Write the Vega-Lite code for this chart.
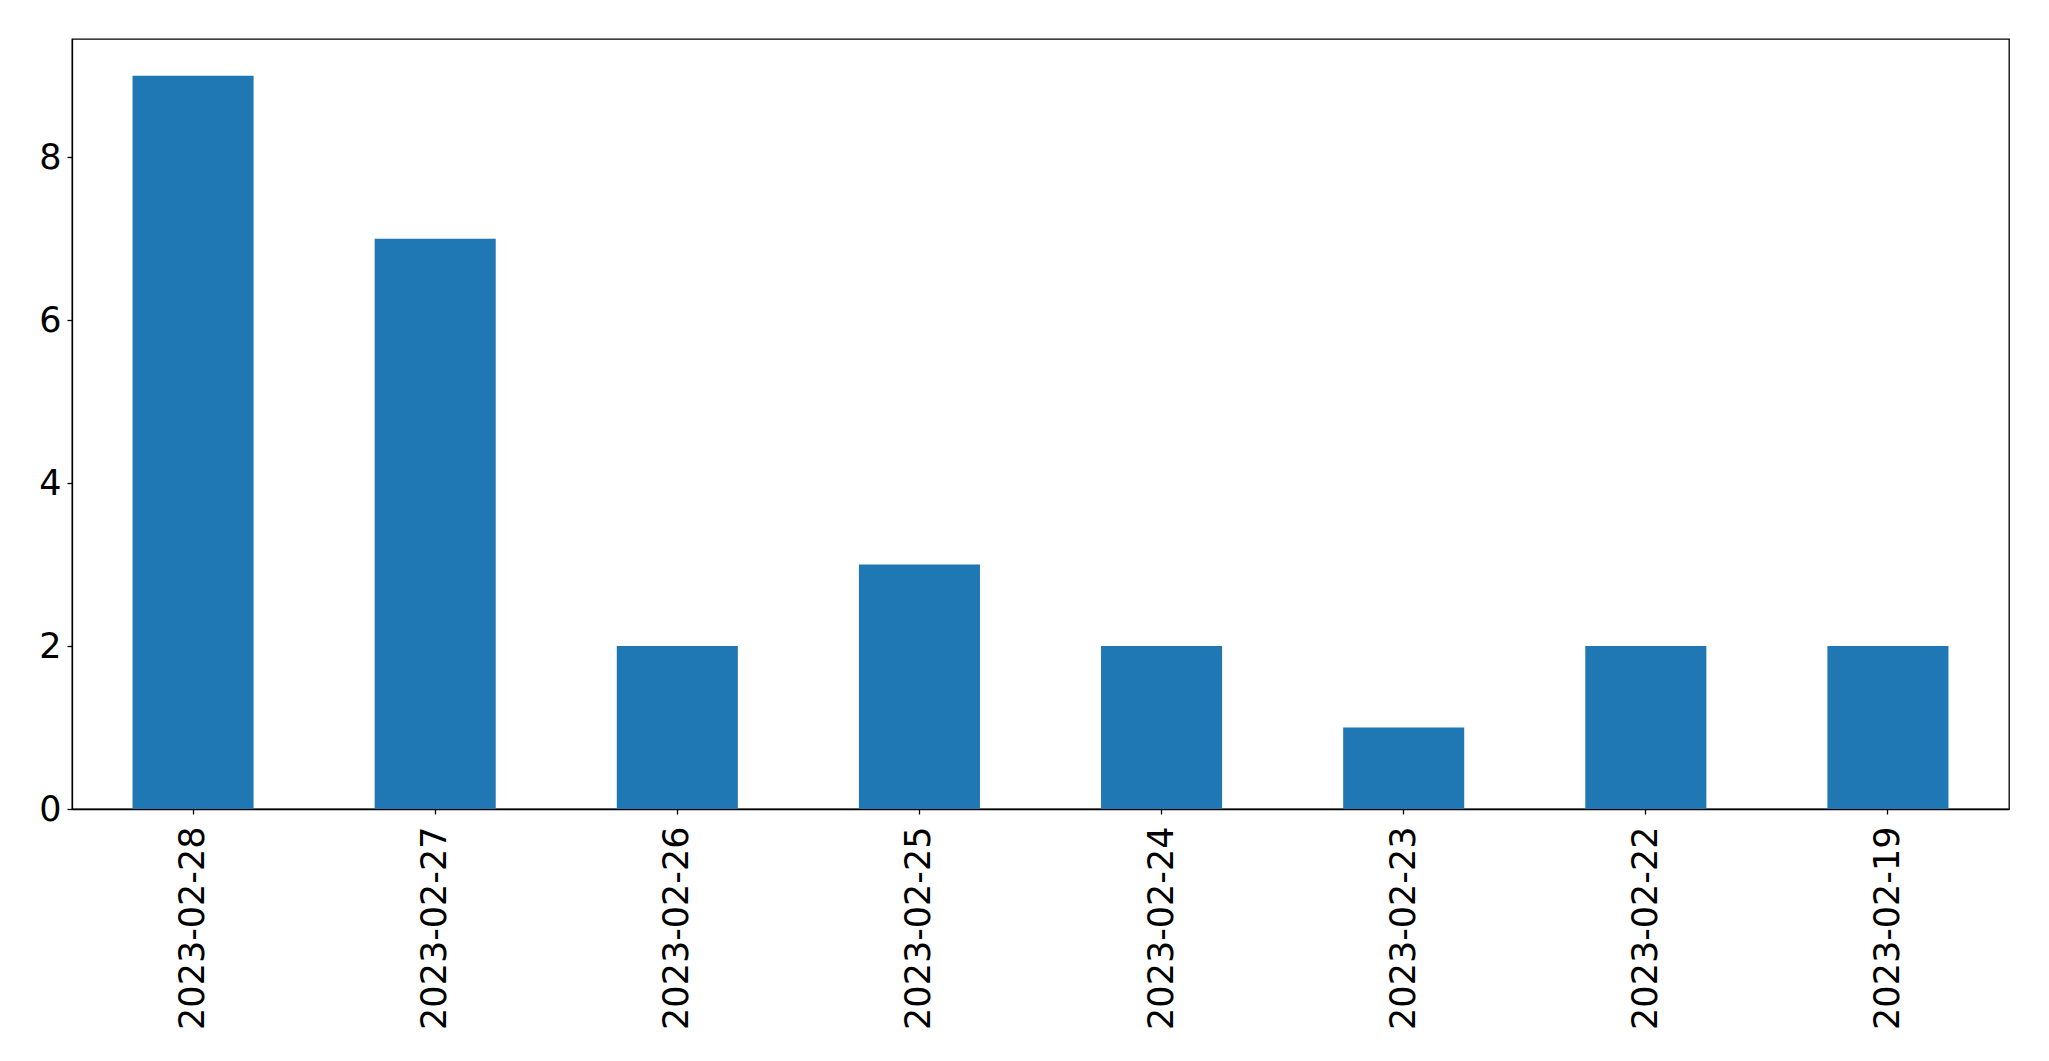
{
  "$schema": "https://vega.github.io/schema/vega-lite/v6.json",
  "autosize": {"type": "none"},
  "padding": {"left": 72, "top": 39, "right": 40, "bottom": 252},
  "width": 1937,
  "height": 770,
  "background": "white",
  "data": {
    "values": [
      {"date": "2023-02-28", "count": 9},
      {"date": "2023-02-27", "count": 7},
      {"date": "2023-02-26", "count": 2},
      {"date": "2023-02-25", "count": 3},
      {"date": "2023-02-24", "count": 2},
      {"date": "2023-02-23", "count": 1},
      {"date": "2023-02-22", "count": 2},
      {"date": "2023-02-19", "count": 2}
    ]
  },
  "mark": {"type": "bar", "color": "#1f77b4"},
  "encoding": {
    "x": {
      "field": "date",
      "type": "nominal",
      "sort": null,
      "scale": {"paddingInner": 0.5, "paddingOuter": 0.25},
      "axis": {
        "title": null,
        "labelAngle": -90,
        "labelAlign": "right",
        "labelBaseline": "middle",
        "labelFont": "DejaVu Sans",
        "labelFontSize": 35,
        "labelLimit": 0,
        "labelColor": "black",
        "labelPadding": 12,
        "tickSize": 5,
        "tickColor": "black",
        "domainColor": "black",
        "domainWidth": 1.3,
        "tickWidth": 1.3,
        "grid": false
      }
    },
    "y": {
      "field": "count",
      "type": "quantitative",
      "scale": {"domain": [0, 9.45], "nice": false, "zero": true},
      "axis": {
        "title": null,
        "values": [0, 2, 4, 6, 8],
        "labelFont": "DejaVu Sans",
        "labelFontSize": 35,
        "labelLimit": 0,
        "labelColor": "black",
        "labelPadding": 6,
        "tickSize": 5,
        "tickColor": "black",
        "domainColor": "black",
        "domainWidth": 1.3,
        "tickWidth": 1.3,
        "grid": false
      }
    }
  },
  "config": {
    "view": {"stroke": "black", "strokeWidth": 1.3}
  }
}
